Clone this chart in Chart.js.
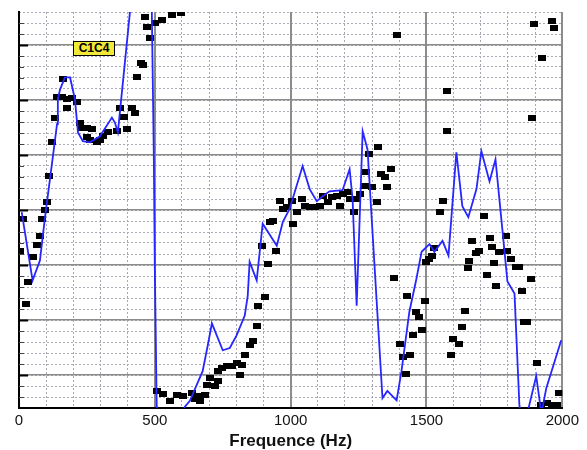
<!DOCTYPE html>
<html>
<head>
<meta charset="utf-8">
<script src="https://cdn.jsdelivr.net/npm/chart.js@4.4.1/dist/chart.umd.min.js"></script>
<style>
  body { margin: 0; background: #fff; }
  #wrap { position: relative; width: 587px; height: 450px; }
  #tag {
    position: absolute; left: 73px; top: 41px; width: 40px; height: 13px;
    background: #f2e83a; border: 1px solid #000;
    font: bold 12px "Liberation Sans", Arial, sans-serif; line-height: 13px;
    text-align: center; color: #000;
  }
</style>
</head>
<body>
<div id="wrap">
  <canvas id="chart" width="587" height="450"></canvas>
  <div id="tag">C1C4</div>
</div>
<script>
// computed response (blue line)
var lineFreq = [10, 50, 77, 95, 121, 140, 143, 151, 169, 188, 206, 217, 235, 261, 298, 342, 353, 364, 408, 426,
  482, 489, 496, 500, 507, 518, 555, 610, 629, 676, 695, 710, 750, 776, 801, 831, 842, 849, 875, 897,
  949, 971, 996, 1044, 1070, 1096, 1118, 1143, 1191, 1217, 1228, 1243, 1265, 1283, 1316, 1338, 1356, 1390, 1408, 1437,
  1463, 1482, 1511, 1529, 1559, 1581, 1610, 1632, 1654, 1684, 1702, 1732, 1754, 1779, 1798, 1824, 1842, 1857, 1871, 1904,
  1923, 1941, 1996];
var lineLevel = [29.6, 17.2, 20.8, 28.4, 38.3, 45.6, 50.1, 51.9, 54.1, 54.1, 50.1, 44.1, 42.5, 42.3, 43.4, 46.8, 45.9, 44.1, 65.8, 71.8,
  71.8, 65.8, 41, 19.3, -5.8, -11.4, -13.2, -5.8, -4.7, 0.7, 5.4, 9.4, 4.5, 4.9, 7.2, 10.8, 14.4, 20.6, 17.2, 27.5,
  23.5, 27.8, 30.2, 38, 33.8, 31.6, 32.5, 33.4, 33.6, 37.4, 32, 12.6, 44.3, 41, 13.9, -4.2, -2.9, -4.6, 0.7, 11.5,
  17.5, 22.4, 23.8, 22.4, 24.4, 21.7, 40.5, 30.7, 28.7, 33.8, 40.7, 35.2, 39.2, 26.6, 17, 14.8, -5.5, -9.6, -7, -0.2,
  -7, -2.4, 6.3];

// measured points (black squares)
var measFreq = [4, 15, 26, 33, 51, 66, 77, 85, 96, 103, 110, 121, 132, 140, 158, 162, 176, 176, 195, 213,
  224, 232, 250, 250, 261, 268, 287, 298, 309, 327, 360, 371, 386, 397, 415, 426, 434, 449, 456, 463,
  471, 482, 500, 526, 563, 596,
  507, 529, 555, 581, 603, 636, 647, 654, 665, 684, 691, 702, 721, 732, 732, 746, 765, 783, 801, 812,
  820, 831, 849, 860, 875, 879, 904, 893, 915, 945, 923, 934, 960, 971, 985, 1004, 1007, 1022, 1040, 1051,
  1070, 1088, 1107, 1118, 1136, 1154, 1169, 1180, 1191, 1210, 1217, 1235, 1243, 1254, 1272, 1279, 1290, 1301, 1316, 1320,
  1334, 1346, 1356, 1371, 1382, 1393, 1401, 1412, 1423, 1430, 1441, 1449, 1463, 1474, 1482, 1493, 1500, 1511, 1522, 1529,
  1548, 1559, 1574, 1577, 1592, 1596, 1618, 1632, 1643, 1651, 1658, 1669, 1684, 1695, 1713, 1721, 1732, 1743, 1750, 1757,
  1768, 1794, 1798, 1812, 1831, 1842, 1853, 1860, 1871, 1886, 1890, 1897, 1908, 1923, 1926, 1945, 1963, 1963, 1970, 1982,
  1989];
var measLevel = [22.6, 28.4, 13, 17, 21.5, 23.7, 25.3, 28.4, 30, 31.4, 36.1, 42.3, 46.8, 50.6, 50.6, 53.9, 50.1, 48.6, 50.4, 49.7,
  45.9, 45, 45, 43.2, 42.8, 44.7, 42.3, 42.8, 43.4, 44.1, 44.3, 48.6, 47, 44.7, 48.6, 47.7, 54.1, 56.8, 56.4, 65.1,
  63.3, 61.3, 64, 64.6, 65.5, 65.8,
  -2.9, -3.5, -4.7, -3.6, -3.8, -3.3, -4.4, -3.8, -4.7, -3.6, -1.8, -0.6, -2, -1.1, 0.7, 1.2, 1.6, 1.6, 2.1, 0,
  1.8, 3.6, 5.4, 6.1, 9, 12.5, 14.1, 23.5, 20.2, 22.6, 27.8, 28, 31.6, 30.2, 30.5, 31.6, 27.5, 29.6, 32, 30.7,
  30.5, 30.5, 30.7, 32.5, 31.4, 32.3, 32.5, 30.7, 32.9, 33.3, 32, 29.6, 32, 32.9, 34.3, 36.9, 40.1, 34.2, 31.4, 41.4,
  36.5, 36, 34.2, 37.4, 17.7, 61.8, 5.6, 3.2, 0.2, 14.4, 3.6, 7.2, 11.5, 10.6, 8.1, 13.4, 20.6, 21.1, 21.7, 23.1,
  29.6, 31.6, 44.3, 51.7, 3.6, 6.5, 5.6, 8.8, 11.7, 19.5, 20.8, 24.4, 22.2, 22.6, 28.9, 18.2, 24.9, 23.3, 20.4, 16.2,
  22.4, 25.3, 22.6, 21.1, 19.7, 19.7, 15.2, 9.7, 9.7, 17.5, 46.8, 63.8, 2.1, -5.5, 57.7, -5.1, 64.4, -5.5, 63.1, -5.5,
  -3.3];

var xTicks = [0, 500, 1000, 1500, 2000];
var yMin = -6, yMax = 66;

var linePts = lineFreq.map(function (f, i) { return { x: f, y: lineLevel[i] }; });
var measPts = measFreq.map(function (f, i) { return { x: f, y: measLevel[i] }; });

// little black rectangle used as marker
var sq = document.createElement("canvas");
sq.width = 8; sq.height = 6;
var sctx = sq.getContext("2d");
sctx.fillStyle = "#000";
sctx.fillRect(0, 0, 8, 6);

// ticks on the inner side of the left axis
var innerTicks = {
  id: "innerTicks",
  afterDraw: function (chart) {
    var ctx = chart.ctx, y = chart.scales.y, left = chart.chartArea.left;
    ctx.save();
    for (var v = yMin + 2; v < yMax; v += 2) {
      var py = Math.round(y.getPixelForValue(v)) + 0.5;
      var major = v % 10 === 0;
      ctx.strokeStyle = major ? "#000" : "#444";
      ctx.lineWidth = major ? 2 : 1;
      ctx.beginPath();
      ctx.moveTo(left, py);
      ctx.lineTo(left + (major ? 9 : 5), py);
      ctx.stroke();
    }
    ctx.restore();
  }
};

var font = "'Liberation Sans', Arial, sans-serif";

new Chart(document.getElementById("chart"), {
  type: "scatter",
  data: {
    datasets: [
      {
        label: "calcul",
        data: linePts,
        showLine: true,
        borderColor: "#2626ff",
        borderWidth: 1.8,
        pointRadius: 0,
        tension: 0
      },
      {
        label: "mesure",
        data: measPts,
        pointStyle: sq,
        pointRadius: 4,
        backgroundColor: "#000",
        borderColor: "#000"
      }
    ]
  },
  options: {
    responsive: false,
    animation: false,
    layout: { padding: { left: 19, top: 12, right: 24, bottom: 0 } },
    plugins: { legend: { display: false }, tooltip: { enabled: false } },
    scales: {
      xm: {
        type: "linear", position: "bottom", min: 0, max: 2000,
        ticks: { display: false, stepSize: 100, padding: 0 },
        grid: { color: "#a8a8b4", lineWidth: 1, drawTicks: false },
        border: { display: false, dash: [2, 2] }
      },
      ym: {
        type: "linear", position: "left", min: yMin, max: yMax,
        ticks: { display: false, stepSize: 2, padding: 0 },
        grid: { color: "#a8a8b4", lineWidth: 1, drawTicks: false },
        border: { display: false, dash: [2, 2] }
      },
      x: {
        type: "linear", position: "bottom", min: 0, max: 2000,
        afterBuildTicks: function (s) { s.ticks = xTicks.map(function (v) { return { value: v }; }); },
        ticks: {
          color: "#111", padding: 8, font: { family: font, size: 15, lineHeight: 0.6 },
          callback: function (v) { return String(v); }
        },
        grid: {
          drawTicks: false,
          color: function (c) { return c.tick && c.tick.value === 0 ? "rgba(0,0,0,0)" : "#8c8c8c"; },
          lineWidth: 2
        },
        border: { color: "#000", width: 2 },
        title: {
          display: true, text: "Frequence (Hz)", color: "#111",
          font: { family: font, size: 17, weight: "bold", lineHeight: 1 },
          padding: { top: 0, bottom: 0 }
        }
      },
      y: {
        type: "linear", position: "left", min: yMin, max: yMax,
        afterBuildTicks: function (s) {
          s.ticks = [0, 10, 20, 30, 40, 50, 60].map(function (v) { return { value: v }; });
        },
        ticks: { display: false },
        grid: { drawTicks: false, color: "#8c8c8c", lineWidth: 1.5 },
        border: { color: "#000", width: 2 }
      }
    }
  },
  plugins: [innerTicks]
});
</script>
</body>
</html>
